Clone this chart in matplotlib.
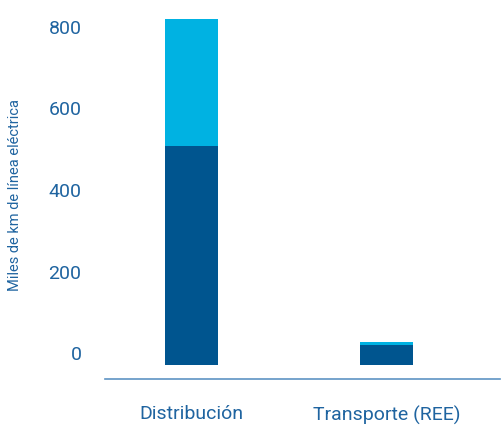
import matplotlib.pyplot as plt
import matplotlib.transforms as mtransforms

categories = ['Distribución', 'Transporte (REE)']
base_vals = [537, 49]
top_vals = [312, 7]
yticks = [0, 200, 400, 600, 800]

dark = '#00558F'
light = '#00B2E2'
txt = '#1F64A0'

plt.rcParams['font.family'] = ['Roboto', 'DejaVu Sans']

fig = plt.figure(figsize=(5.01, 4.26), dpi=100)
ax = fig.add_axes([105 / 501, 47 / 426, 395 / 501, 369 / 426])

x = range(len(categories))
ax.bar(x, base_vals, width=0.272, color=dark)
ax.bar(x, top_vals, bottom=base_vals, width=0.272, color=light)

ax.set_xlim(-0.444, 1.582)
ax.set_ylim(-34, 871)

ax.set_yticks(yticks)
ax.set_yticklabels([str(t) for t in yticks])
ax.set_xticks(list(x))
ax.set_xticklabels(categories)
ax.tick_params(axis='y', length=0, pad=17, labelsize=14, labelcolor=txt)
ax.tick_params(axis='x', length=0, pad=19, labelsize=14, labelcolor=txt)

# labels sit a bit above their tick positions in the original
off = mtransforms.ScaledTranslation(0, 12 / 100, fig.dpi_scale_trans)
for lab in ax.get_yticklabels():
    lab.set_transform(lab.get_transform() + off)

for s in ['top', 'right', 'left']:
    ax.spines[s].set_visible(False)
ax.spines['bottom'].set_color('#5E93C4')
ax.spines['bottom'].set_linewidth(1.2)

fig.text(15 / 501, 1 - 195 / 426, 'Miles de km de línea eléctrica', rotation=90,
         ha='center', va='center', fontsize=10.5, color=txt)

fig.savefig('out.png', dpi=100)
